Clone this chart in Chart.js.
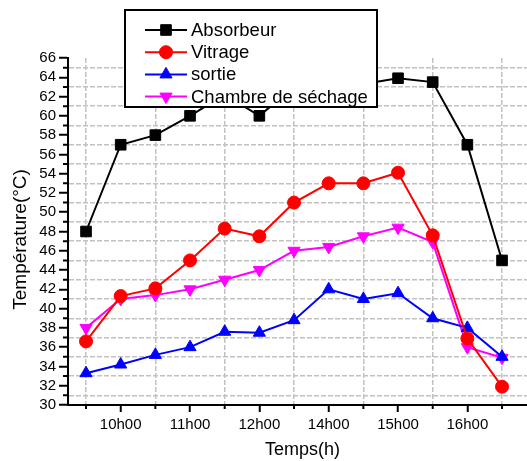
<!DOCTYPE html>
<html><head><meta charset="utf-8">
<script src="https://cdn.jsdelivr.net/npm/chart.js@4/dist/chart.umd.min.js"></script>
<style>html,body{margin:0;padding:0;background:#fff;} #wrap{width:527px;height:461px;position:relative;}</style>
</head><body><div id="wrap"><canvas id="c" width="527" height="461"></canvas></div>
<script>
const timeLabels = ['', '10h00', '', '11h00', '', '12h00', '', '14h00', '', '15h00', '', '16h00', ''];
const absorbeur = [48, 57, 58, 60, 62.2, 60, 63, 63.5, 63.3, 63.9, 63.5, 57, 45];
const vitrage   = [36.6, 41.3, 42.1, 45, 48.3, 47.5, 51, 53, 53, 54.1, 47.6, 36.9, 31.9];
const sortie    = [33.3, 34.2, 35.2, 36, 37.6, 37.5, 38.8, 42, 41, 41.6, 39, 38, 35];
const chambre   = [38, 41, 41.4, 42, 43, 44, 46, 46.4, 47.5, 48.4, 46.9, 36, 34.9];
const seriesNames = ['Absorbeur', 'Vitrage', 'sortie', 'Chambre de séchage'];
const yMajor = [30, 32, 34, 36, 38, 40, 42, 44, 46, 48, 50, 52, 54, 56, 58, 60, 62, 64, 66];
const yMinor = [31, 33, 35, 37, 39, 41, 43, 45, 47, 49, 51, 53, 55, 57, 59, 61, 63, 65];

const FONT = 'Liberation Sans, Arial, sans-serif';
Chart.defaults.font.family = FONT;
Chart.defaults.color = '#000';

const toPts = arr => arr.map((v, i) => ({x: i, y: v}));
const GRID = '#c2c2c2';
const NONE = 'rgba(0,0,0,0)';

const minorTicks = {
  id: 'minorTicks',
  afterDraw(chart) {
    const ctx = chart.ctx, xs = chart.scales.x, ys = chart.scales.y;
    ctx.save();
    ctx.strokeStyle = '#000'; ctx.lineWidth = 2;
    ctx.beginPath();
    yMinor.forEach(v => { const py = ys.getPixelForValue(v); ctx.moveTo(ys.right - 5, py); ctx.lineTo(ys.right, py); });
    timeLabels.forEach((l, i) => { if (i % 2 === 0) { const px = xs.getPixelForValue(i); ctx.moveTo(px, xs.top); ctx.lineTo(px, xs.top + 4); } });
    ctx.stroke();
    ctx.restore();
  }
};

const legendBox = {
  id: 'legendBox',
  afterDraw(chart) {
    const ctx = chart.ctx;
    ctx.save();
    ctx.fillStyle = '#fff';
    ctx.fillRect(125, 10, 252, 97);
    ctx.strokeStyle = '#000'; ctx.lineWidth = 2;
    ctx.strokeRect(125, 10, 252, 97);
    chart.data.datasets.forEach((ds, i) => {
      const yy = 30 + i * 22.2;
      ctx.strokeStyle = ds.borderColor; ctx.lineWidth = 2;
      ctx.beginPath(); ctx.moveTo(145, yy); ctx.lineTo(187, yy); ctx.stroke();
      ctx.fillStyle = ds.pointBackgroundColor; ctx.strokeStyle = ds.borderColor; ctx.lineWidth = 1;
      Chart.helpers.drawPoint(ctx, {pointStyle: ds.pointStyle, rotation: ds.pointRotation || 0, radius: ds.pointRadius, borderWidth: 1}, 166, yy);
      ctx.fillStyle = '#000';
      ctx.font = '18.5px ' + FONT;
      ctx.textBaseline = 'middle'; ctx.textAlign = 'left';
      ctx.fillText(ds.label, 191, yy + 1);
    });
    ctx.restore();
  }
};

const mk = (label, data, color, style, r, rot) => ({
  label, data: toPts(data), borderColor: color, backgroundColor: color,
  pointBackgroundColor: color, pointBorderColor: color, pointStyle: style,
  pointRadius: r, pointHoverRadius: r, pointRotation: rot || 0, pointBorderWidth: 1,
  borderWidth: 2, tension: 0, clip: false
});

new Chart(document.getElementById('c'), {
  type: 'line',
  data: {
    datasets: [
      mk(seriesNames[0], absorbeur, '#000000', 'rect', 7.5),
      mk(seriesNames[1], vitrage, '#ff0000', 'circle', 6.5),
      mk(seriesNames[2], sortie, '#0000ff', 'triangle', 7),
      mk(seriesNames[3], chambre, '#ff00ff', 'triangle', 7, 180)
    ]
  },
  options: {
    responsive: false,
    animation: false,
    layout: {autoPadding: false, padding: {top: 58, right: 0, left: 0, bottom: 0}},
    plugins: {legend: {display: false}, tooltip: {enabled: false}},
    scales: {
      x: {
        type: 'linear', min: -0.52, max: 12.72,
        afterBuildTicks: s => { s.ticks = timeLabels.map((_, i) => ({value: i})); },
        afterFit: s => { s.height = 56; s.paddingLeft = 0; s.paddingRight = 0; },
        ticks: {autoSkip: false, maxRotation: 0, font: {size: 15}, color: '#000', padding: 4,
          callback: (v, i) => timeLabels[i] || ''},
        grid: {
          color: c => (c.tick && c.tick.value % 2 === 0) ? GRID : NONE,
          lineWidth: 1.5, tickLength: 7, tickWidth: 2,
          tickColor: c => (c.tick && c.tick.value % 2 === 1) ? '#000' : NONE
        },
        border: {color: '#000', width: 2, dash: [5, 2]},
        title: {display: true, text: '\u00a0\u00a0Temps(h)', font: {size: 18}, color: '#000', padding: {top: 0, bottom: 0}}
      },
      y: {
        min: 30, max: 66,
        afterBuildTicks: s => { s.ticks = yMajor.concat(yMinor).sort((a, b) => a - b).map(v => ({value: v})); },
        afterFit: s => { s.width = 68; },
        ticks: {autoSkip: false, font: {size: 15}, color: '#000', padding: 3,
          callback: v => yMajor.includes(v) ? String(v) : ''},
        grid: {
          color: c => (c.tick && yMinor.includes(c.tick.value)) ? GRID : NONE,
          lineWidth: 1.5, tickLength: 9, tickWidth: 2,
          tickColor: c => (c.tick && yMajor.includes(c.tick.value)) ? '#000' : NONE
        },
        border: {color: '#000', width: 2, dash: [5, 2]},
        title: {display: true, text: 'Température(°C)\u00a0\u00a0\u00a0', font: {size: 19}, color: '#000', padding: {top: 9, bottom: 0}}
      }
    }
  },
  plugins: [minorTicks, legendBox]
});
</script>
</body></html>
